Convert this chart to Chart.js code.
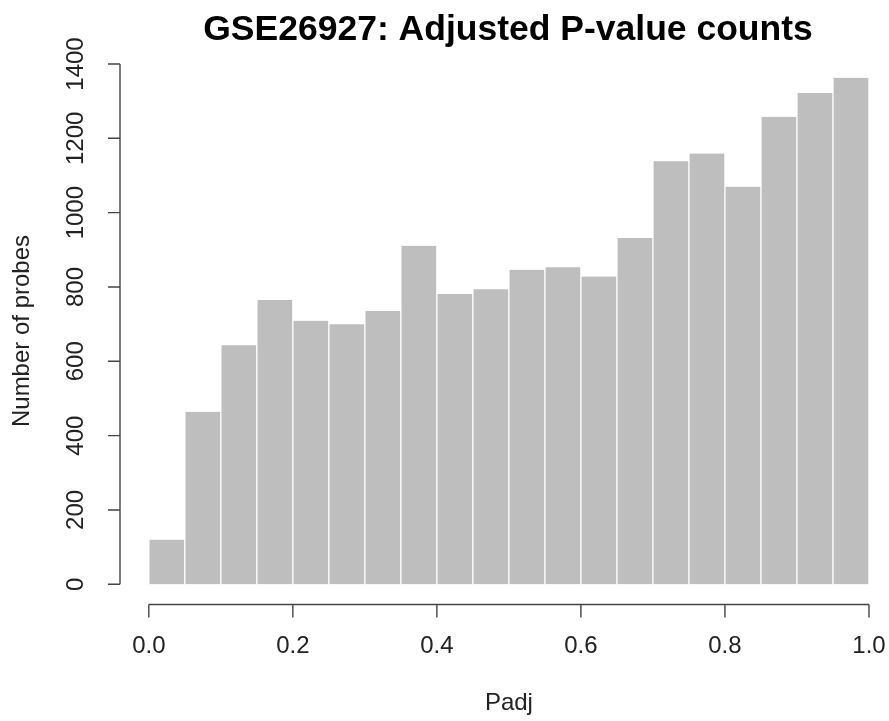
<!DOCTYPE html>
<html>
<head>
<meta charset="utf-8">
<script src="https://cdn.jsdelivr.net/npm/chart.js@4.4.1/dist/chart.umd.min.js"></script>
<style>
  html, body { margin: 0; padding: 0; background: #fff; }
  #wrap { width: 889px; height: 721px; }
</style>
</head>
<body>
<div id="wrap"><canvas id="myChart" width="889" height="721"></canvas></div>
<script>
// histogram bins (mid points) and counts
const binMids = [0.025, 0.075, 0.125, 0.175, 0.225, 0.275, 0.325, 0.375, 0.425, 0.475,
                 0.525, 0.575, 0.625, 0.675, 0.725, 0.775, 0.825, 0.875, 0.925, 0.975];
const counts = [120, 464, 643, 765, 709, 700, 735, 911, 781, 794,
                846, 853, 828, 932, 1138, 1159, 1070, 1258, 1322, 1363];
const xTicks = [0, 0.2, 0.4, 0.6, 0.8, 1.0];
const yTicks = [0, 200, 400, 600, 800, 1000, 1200, 1400];

const titleText = 'GSE26927: Adjusted P-value counts';
const xTitle = 'Padj';
const yTitle = 'Number of probes';

const FONT = '"Liberation Sans", Arial, Helvetica, sans-serif';

// R style axes: lines only span the tick range, labels parallel to axis
const rAxes = {
  id: 'rAxes',
  afterDraw(chart) {
    const ctx = chart.ctx;
    const xs = chart.scales.x;
    const ys = chart.scales.y;
    const area = chart.chartArea;
    ctx.save();
    ctx.strokeStyle = '#444';
    ctx.lineWidth = 1.4;

    // x axis
    const axY = area.bottom;
    ctx.beginPath();
    ctx.moveTo(xs.getPixelForValue(xTicks[0]), axY);
    ctx.lineTo(xs.getPixelForValue(xTicks[xTicks.length - 1]), axY);
    xTicks.forEach(t => {
      const px = xs.getPixelForValue(t);
      ctx.moveTo(px, axY);
      ctx.lineTo(px, axY + 13);
    });
    ctx.stroke();

    ctx.fillStyle = '#222';
    ctx.font = '24px ' + FONT;
    ctx.textAlign = 'center';
    ctx.textBaseline = 'middle';
    xTicks.forEach(t => {
      ctx.fillText(t.toFixed(1), xs.getPixelForValue(t), axY + 42);
    });
    ctx.fillText(xTitle, (xs.getPixelForValue(0) + xs.getPixelForValue(1)) / 2, axY + 99);

    // y axis
    const axX = area.left;
    ctx.beginPath();
    ctx.moveTo(axX, ys.getPixelForValue(yTicks[0]));
    ctx.lineTo(axX, ys.getPixelForValue(yTicks[yTicks.length - 1]));
    yTicks.forEach(t => {
      const py = ys.getPixelForValue(t);
      ctx.moveTo(axX, py);
      ctx.lineTo(axX - 12, py);
    });
    ctx.stroke();

    yTicks.forEach(t => {
      ctx.save();
      ctx.translate(axX - 44, ys.getPixelForValue(t));
      ctx.rotate(-Math.PI / 2);
      ctx.fillText(String(t), 0, 0);
      ctx.restore();
    });
    ctx.save();
    ctx.translate(22, (area.top + area.bottom) / 2);
    ctx.rotate(-Math.PI / 2);
    ctx.fillText(yTitle, 0, 0);
    ctx.restore();

    // main title
    ctx.fillStyle = '#000';
    ctx.font = 'bold 35.5px ' + FONT;
    ctx.fillText(titleText, 508, 30);
    ctx.restore();
  }
};

window.onload = function () {
  drawChart();
};

function drawChart() {
  const ctx = document.getElementById('myChart');

  window.myChart = new Chart(ctx, {
    type: 'bar',
    data: {
      datasets: [{
        label: 'Padj',
        data: binMids.map((m, i) => ({ x: m, y: counts[i] })),
        backgroundColor: '#BEBEBE',
        borderColor: '#FFFFFF',
        borderWidth: { left: 1, right: 1, top: 0, bottom: 0 },
        borderSkipped: false,
        barPercentage: 1.0,
        categoryPercentage: 1.0
      }]
    },
    options: {
      responsive: false,
      animation: false,
      layout: {
        padding: { left: 120, right: 0, top: 57.5, bottom: 116.5 }
      },
      plugins: {
        legend: { display: false },
        tooltip: { enabled: false },
        title: { display: false }
      },
      scales: {
        x: {
          type: 'linear',
          display: false,
          min: -0.04,
          max: 1.0278,
          offset: false
        },
        y: {
          display: false,
          min: -54.5,
          max: 1417.5
        }
      }
    },
    plugins: [rAxes]
  });
}
</script>
</body>
</html>
